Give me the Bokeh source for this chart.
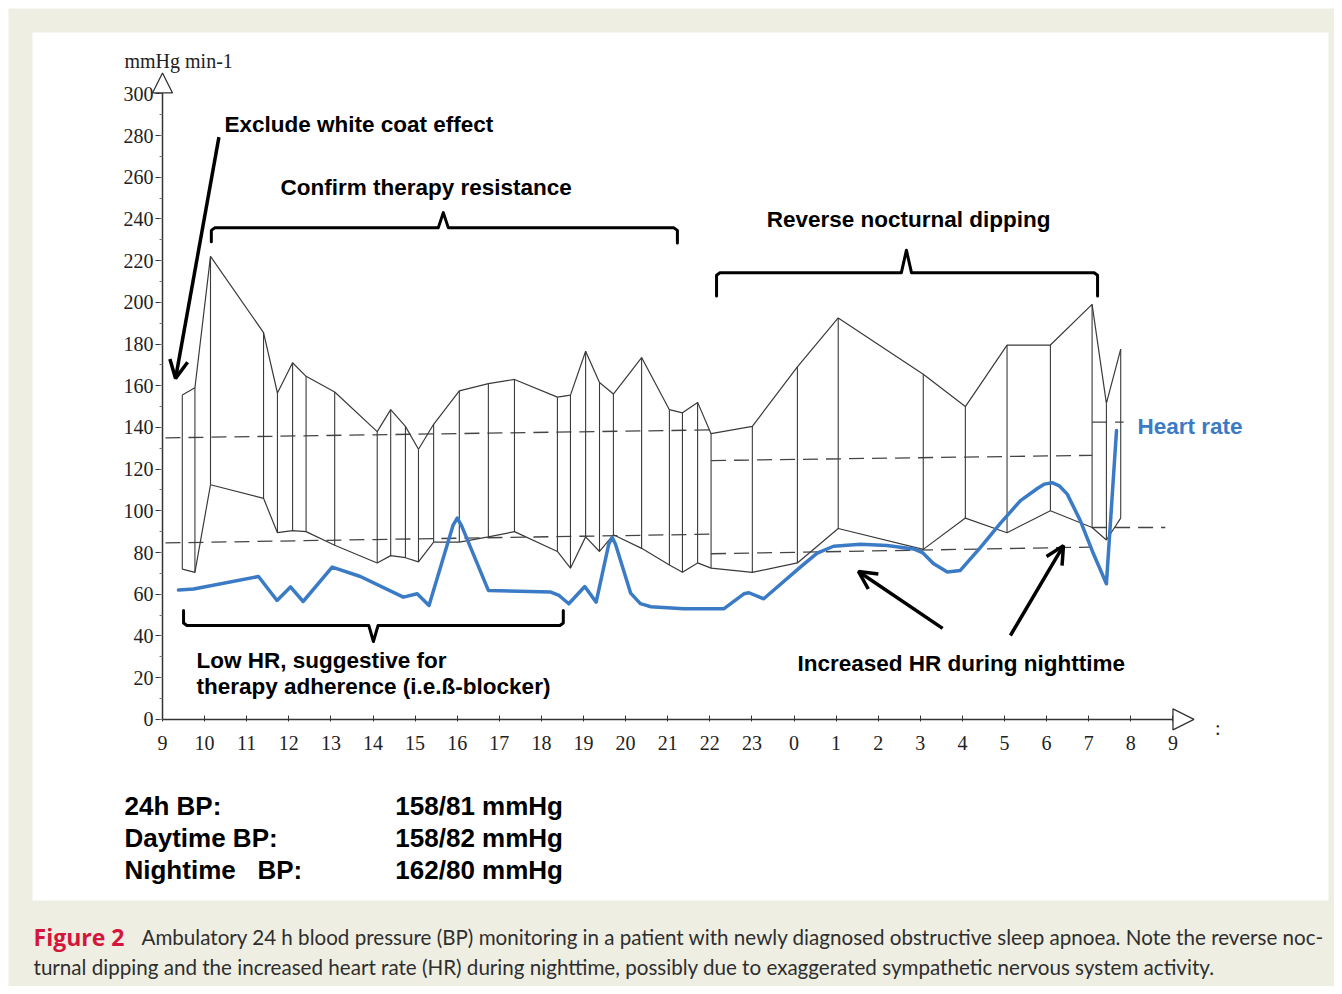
from bokeh.plotting import figure
from bokeh.models import (LinearAxis, FixedTicker, Label, Arrow, NormalHead, OpenHead,
                          Range1d, BoxAnnotation)
from bokeh.embed import file_html
from bokeh.resources import INLINE

# ---------------- data (hours since 09:00) ----------------
bp_t = [0.47, 0.77, 1.14, 2.40, 2.73, 3.09, 3.41, 4.09, 5.10, 5.42, 5.77, 6.08, 6.44,
        7.05, 7.74, 8.36, 9.38, 9.69, 10.05, 10.38, 10.71, 11.38, 12.04, 12.35, 12.71,
        13.03, 14.01, 15.08, 16.05, 18.07, 19.07, 20.06, 21.09, 22.08, 22.42, 22.76]
systolic = [155.5, 159, 222, 185.5, 156.5, 171, 164.5, 157, 138, 148.5, 140.5, 129.5, 141.5,
            157.5, 161, 163, 154.5, 155.5, 176.5, 161.5, 156, 173.5, 148.5, 147, 152,
            137, 140.5, 169, 192.5, 165.5, 150, 179.5, 179.5, 199, 151.5, 177.5]
diastolic = [72, 70.5, 112.5, 106, 89.5, 90.5, 90, 83.5, 75, 78.5, 77.5, 75.5, 85,
             85, 87.5, 90, 80.5, 72.5, 87.5, 80.5, 88.5, 82, 74, 70.5, 75,
             72.5, 70.5, 75, 91.5, 81.5, 96.5, 89.5, 100, 92, 86, 96.5]

hr_t = [0.38, 0.74, 2.28, 2.72, 3.04, 3.34, 4.03, 4.70, 5.72, 6.05, 6.33, 6.90, 7.00, 7.10,
        7.74, 9.22, 9.42, 9.65, 10.03, 10.30, 10.60, 10.68, 10.76, 11.12, 11.35, 11.6, 12.38,
        13.33, 13.81, 13.93, 14.28, 15.15, 15.55, 15.94, 16.58, 17.21, 17.84, 18.05, 18.31,
        18.64, 18.95, 19.43, 19.90, 20.38, 20.78, 20.95, 21.13, 21.30, 21.49, 21.80, 22.11,
        22.42, 22.66]
heart_rate = [62, 62.5, 68.5, 57, 63.5, 56.5, 73, 68.5, 58.6, 60.2, 54.6, 93, 96.5, 93,
              61.8, 61, 59.4, 55.4, 63.7, 56.2, 84, 87.3, 84, 60.5, 55.5, 54, 53,
              53, 60.2, 60.7, 57.8, 73, 79.7, 83, 84, 83.4, 81.7, 80, 74.7,
              70.7, 71.4, 82.5, 94, 104.9, 110.7, 112.8, 113.5, 112, 108, 95.3, 79.5,
              65, 138.5]

# reference (dashed) lines: day, night, morning
ref_x0 = [0.07, 0.07, 13.03, 13.03, 22.08, 22.08]
ref_y0 = [135.0, 84.6, 124.1, 79.4, 142.5, 92.0]
ref_x1 = [13.03, 13.03, 22.08, 22.08, 22.83, 23.82]
ref_y1 = [138.8, 88.8, 126.6, 82.6, 142.5, 92.0]

x_ticks = list(range(0, 25))
x_tick_labels = [str((9 + i) % 24) for i in x_ticks]
y_ticks = list(range(0, 301, 20))

summary_names = ["24h BP:", "Daytime BP:", "Nightime\u00a0\u00a0\u00a0BP:"]
summary_values = ["158/81 mmHg", "158/82 mmHg", "162/80 mmHg"]

caption_head = "Figure 2"
caption_line1 = ("Ambulatory 24 h blood pressure (BP) monitoring in a patient with newly diagnosed "
                 "obstructive sleep apnoea. Note the reverse noc-")
caption_line2 = ("turnal dipping and the increased heart rate (HR) during nighttime, possibly due to "
                 "exaggerated sympathetic nervous system activity.")

# bracket shapes
br_confirm_x = [1.16, 1.16, 1.24, 6.55, 6.67, 6.79, 12.15, 12.23, 12.23]
br_confirm_y = [229, 234.5, 235.7, 235.7, 243, 235.7, 235.7, 234.5, 228.5]
br_reverse_x = [13.16, 13.16, 13.24, 17.55, 17.67, 17.79, 22.13, 22.21, 22.21]
br_reverse_y = [203, 213, 214.2, 214.2, 225, 214.2, 214.2, 213, 203]
br_low_x = [0.50, 0.50, 0.58, 4.90, 5.01, 5.12, 9.44, 9.52, 9.52]
br_low_y = [52.2, 46.2, 45, 45, 37.3, 45, 45, 46.2, 52.2]

BEIGE = "#efeee3"
INK = "#333333"
BLUE = "#3b7bc6"
SERIF = "Liberation Serif"
SANS = "Liberation Sans"

X0, X1 = -3.848, 27.838
Y0, Y1 = -128.15, 344.75

p = figure(width=1334, height=986,
           x_range=Range1d(X0, X1), y_range=Range1d(Y0, Y1),
           x_axis_location=None, y_axis_location=None,
           toolbar_location=None, output_backend="svg",
           min_border=0, min_border_left=0, min_border_right=0,
           min_border_top=0, min_border_bottom=0,
           border_fill_color="white", background_fill_color="white", outline_line_color=None)
p.grid.visible = False

# beige page frame and white panel
p.add_layout(BoxAnnotation(left=-3.658, right=X1, top=340.9, bottom=Y0,
                           fill_color=BEIGE, fill_alpha=1, line_color=None, level="underlay"))
p.add_layout(BoxAnnotation(left=-3.088, right=27.696, top=329.4, bottom=-86.9,
                           fill_color="white", fill_alpha=1, line_color=None, level="underlay"))

# axes
xa = LinearAxis(fixed_location=0, ticker=FixedTicker(ticks=x_ticks),
                major_label_overrides={t: l for t, l in zip(x_ticks, x_tick_labels)},
                bounds=(0, 24.0))
xa.axis_line_color = INK
xa.axis_line_width = 1.5
xa.major_tick_in = 4
xa.major_tick_out = 2
xa.major_tick_line_color = INK
xa.minor_tick_line_color = None
xa.major_label_standoff = 15
xa.major_label_text_font = SERIF
xa.major_label_text_font_size = "20px"
xa.major_label_text_color = "#222222"
p.add_layout(xa, "below")

ya = LinearAxis(fixed_location=0,
                ticker=FixedTicker(ticks=y_ticks, minor_ticks=list(range(0, 301, 10))),
                bounds=(0, 300))
ya.axis_line_color = INK
ya.axis_line_width = 1.5
ya.major_tick_in = 0
ya.major_tick_out = 7
ya.minor_tick_in = 0
ya.minor_tick_out = 3
ya.major_tick_line_color = INK
ya.minor_tick_line_color = "#777777"
ya.major_label_standoff = 2
ya.major_label_text_font = SERIF
ya.major_label_text_font_size = "20px"
ya.major_label_text_color = "#222222"
p.add_layout(ya, "left")

# axis arrows (hollow triangles)
p.add_layout(Arrow(end=NormalHead(size=21, fill_color="white", line_color=INK, line_width=1.3),
                   x_start=24.0, y_start=0, x_end=24.5, y_end=0, line_color=INK, line_width=1.3))
p.add_layout(Arrow(end=NormalHead(size=20, fill_color="white", line_color=INK, line_width=1.3),
                   x_start=0, y_start=300, x_end=0, y_end=310, line_color=INK, line_width=1.3))

# dashed reference lines
p.segment(x0=ref_x0, y0=ref_y0, x1=ref_x1, y1=ref_y1, line_color="#444444",
          line_width=1.3, line_dash="15 8")

# BP envelope
p.segment(x0=bp_t, y0=diastolic, x1=bp_t, y1=systolic, line_color="#3a3a3a", line_width=1.1)
p.line(bp_t, systolic, line_color="#3a3a3a", line_width=1.2)
p.line(bp_t, diastolic, line_color="#3a3a3a", line_width=1.2)

# heart rate
p.line(hr_t, heart_rate, line_color=BLUE, line_width=3.5, line_join="round", line_cap="round")

# brackets
for bx, by in [(br_confirm_x, br_confirm_y), (br_reverse_x, br_reverse_y), (br_low_x, br_low_y)]:
    p.line(bx, by, line_color="black", line_width=3, line_join="round", line_cap="round")

# arrows
p.add_layout(Arrow(end=OpenHead(size=18, line_width=3.5, line_color="black"),
                   x_start=1.34, y_start=279.2, x_end=0.31, y_end=163.5,
                   line_width=3.5, line_color="black"))
p.add_layout(Arrow(end=OpenHead(size=18, line_width=3.5, line_color="black"),
                   x_start=18.53, y_start=43.6, x_end=16.53, y_end=70.9,
                   line_width=3.5, line_color="black"))
p.add_layout(Arrow(end=OpenHead(size=18, line_width=3.5, line_color="black"),
                   x_start=20.14, y_start=40.2, x_end=21.40, y_end=83.3,
                   line_width=3.5, line_color="black"))


def lab(x, y, text, size, font=SANS, bold=True, color="black"):
    p.add_layout(Label(x=x, y=y, text=text, text_font=font, text_font_size=size,
                       text_font_style="bold" if bold else "normal", text_color=color,
                       text_baseline="middle", text_align="left"))


lab(-0.903, 315.9, "mmHg min-1", "20px", font=SERIF, bold=False, color="#222222")
lab(25.0, -4.4, ":", "20px", font=SERIF, bold=False, color="#222222")
lab(1.473, 285.2, "Exclude white coat effect", "22.5px")
lab(2.803, 255.0, "Confirm therapy resistance", "22.5px")
lab(14.35, 239.7, "Reverse nocturnal dipping", "22.5px")
lab(23.16, 140.4, "Heart rate", "22.5px", color=BLUE)
lab(0.808, 28.2, "Low HR, suggestive for", "22.5px")
lab(0.808, 15.7, "therapy adherence (i.e.ß-blocker)", "22.5px")
lab(15.08, 26.8, "Increased HR during nighttime", "22.5px")

for i, (nm, vl) in enumerate(zip(summary_names, summary_values)):
    yy = -41.8 - 15.35 * i
    lab(-0.903, yy, nm, "26px")
    lab(5.53, yy, vl, "26px")

lab(-3.064, -104.2, caption_head, "23px", font="Open Sans", color="#d4163c")
lab(-0.499, -104.2, caption_line1, "20.6px", font="Lato", bold=False, color="#2e2e2e")
lab(-3.064, -118.6, caption_line2, "20.6px", font="Lato", bold=False, color="#2e2e2e")

open("out.html", "w").write(file_html(p, INLINE))
